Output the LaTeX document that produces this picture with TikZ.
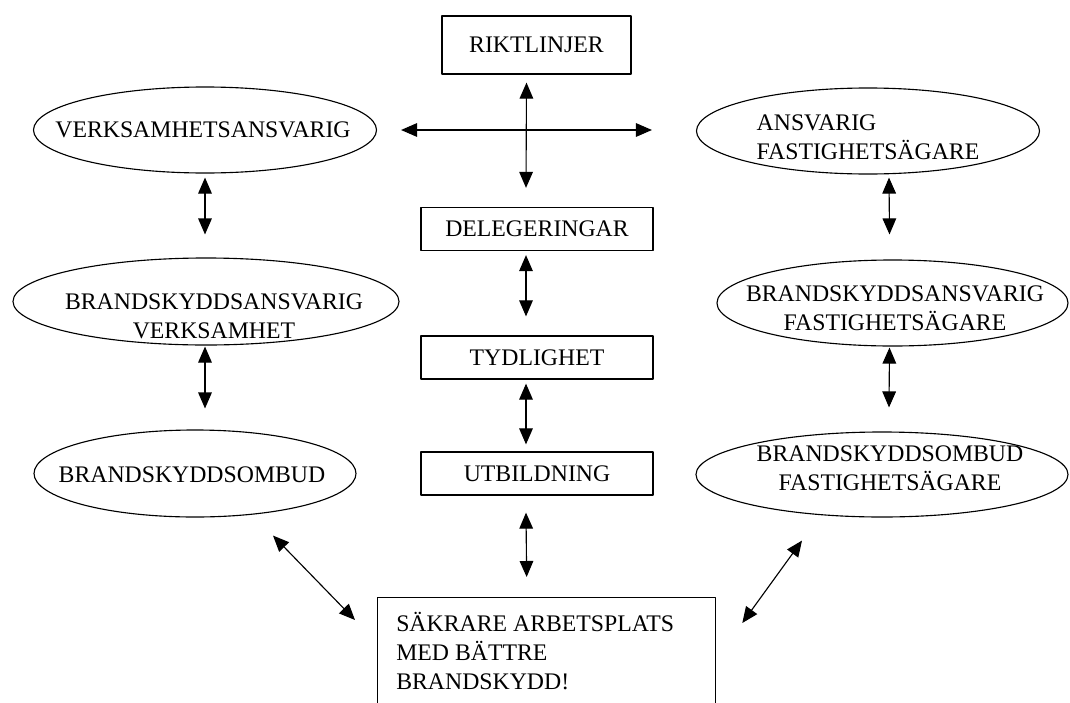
\documentclass[tikz,border=0pt]{standalone}
\usepackage{fontspec}
\setmainfont{Liberation Serif}
\usetikzlibrary{shapes.geometric,arrows.meta,calc}
\begin{document}
\begin{tikzpicture}[x=0.25mm, y=-0.25mm, line cap=round, line join=round, >={Triangle[length=4mm,width=3.4mm]}, font=\fontsize{16.9}{20.6}\selectfont]
	\tikzset{box/.style={draw, line width=0.9pt, inner sep=0pt, minimum width=58mm, minimum height=10.75mm},
		oval/.style={draw, ellipse, line width=0.8pt, inner sep=0pt, minimum height=21.5mm},
		dbl/.style={<->, line width=0.8pt}}
	\clip (0,0) rectangle (1070,702);
	% middle column
	\node[box, minimum width=47.25mm, minimum height=14.5mm] (riktl) at (536.5,45) {RIKTLINJER};
	\node[box] (deleg) at (537,229) {DELEGERINGAR};
	\node[box] (tydl) at (537,357.5) {TYDLIGHET};
	\node[box] (utb) at (537,473.5) {UTBILDNING};
	\node[box, minimum width=84.5mm, minimum height=40mm, anchor=north west] (goal) at (377,597) {};
	\node[anchor=north west, align=left, inner sep=0pt] (goalT) at (396,612) {SÄKRARE ARBETSPLATS\\MED BÄTTRE\\BRANDSKYDD!};
	% left column
	\node[oval, minimum width=85.75mm] (vsa) at (205,130) {};
	\node (vsaT) at (203,130) {VERKSAMHETSANSVARIG};
	\node[oval, minimum width=96.5mm, minimum height=21.75mm] (bsv) at (206,301.5) {};
	\node[align=center] (bsvT) at (214,316) {BRANDSKYDDSANSVARIG\\VERKSAMHET};
	\node[oval, minimum width=80.5mm, minimum height=21.75mm] (bso) at (195,473.5) {};
	\node (bsoT) at (192,475) {BRANDSKYDDSOMBUD};
	% right column
	\node[oval, minimum width=85.75mm] (ansv) at (868,131) {};
	\node[align=left] (ansvT) at (868,137) {ANSVARIG\\FASTIGHETSÄGARE};
	\node[oval, minimum width=87.75mm] (bsf) at (892.5,303) {};
	\node[align=center] (bsfT) at (895,308) {BRANDSKYDDSANSVARIG\\FASTIGHETSÄGARE};
	\node[oval, minimum width=93mm, minimum height=21.25mm] (bof) at (882,474.5) {};
	\node[align=center] (bofT) at (890,468) {BRANDSKYDDSOMBUD\\FASTIGHETSÄGARE};
	% arrows
	\draw[dbl] ($(riktl.south)+(-10,8)$) -- ($(deleg.north)+(-11,-19)$);
	\draw[dbl] ($(vsa.east)+(24,0)$) -- ($(ansv.west)+(-44,-1)$);
	\draw[dbl] ($(deleg.south)+(-11,4)$) -- ($(tydl.north)+(-11,-19)$);
	\draw[dbl] ($(tydl.south)+(-11,4)$) -- ($(utb.north)+(-11,-7)$);
	\draw[dbl] ($(utb.south)+(-11,17)$) -- ($(goal.north)+(-20,-20)$);
	\draw[dbl] ($(vsa.south)+(0,4)$) -- ($(bsv.north)+(-1,-23)$);
	\draw[dbl] ($(bsv.south)+(-1,1)$) -- ($(bso.north)+(10,-21)$);
	\draw[dbl] ($(ansv.south)+(21,3)$) -- ($(bsf.north)+(-3,-25)$);
	\draw[dbl] ($(bsf.south)+(-3,1)$) -- ($(bof.north)+(7,-24)$);
	\draw[dbl] ($(bso.south)+(78,18)$) -- ($(goal.north west)+(-22,23)$);
	\draw[dbl] ($(bof.south)+(-80,23)$) -- ($(goal.north east)+(26,26)$);
\end{tikzpicture}
\end{document}
